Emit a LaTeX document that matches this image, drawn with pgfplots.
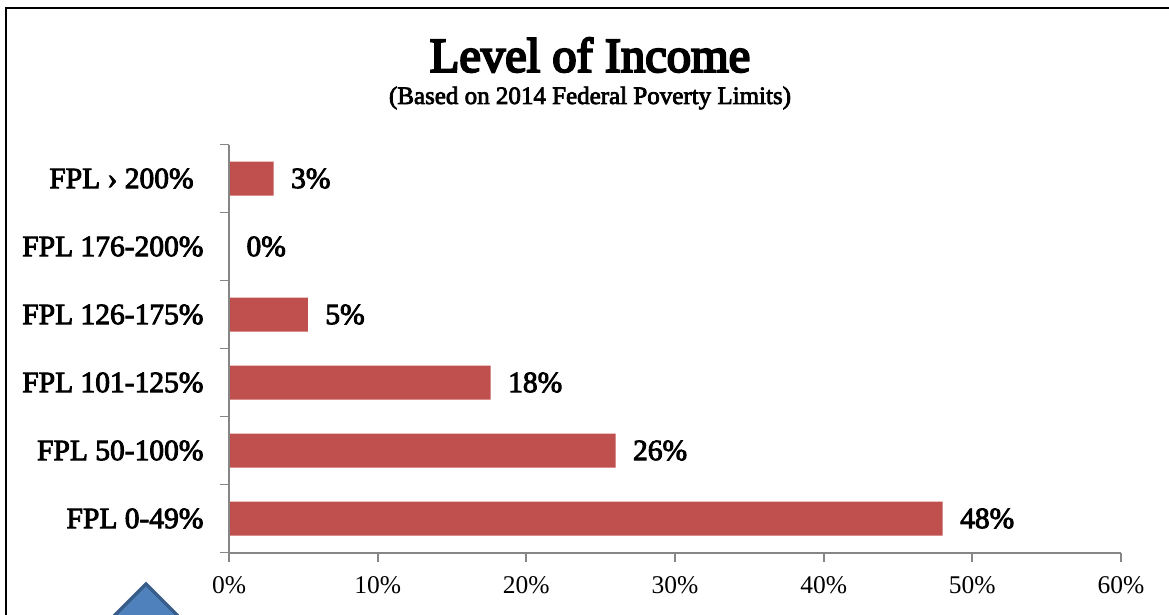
\documentclass[border=0pt]{standalone}
\usepackage{pgfplots}
\usepackage{fontspec}
\pgfplotsset{compat=1.18}
\setmainfont{Liberation Serif}
\newfontfamily\semibold[FakeBold=3]{Liberation Serif}
\newfontfamily\titleface[FakeBold=4.5]{Liberation Serif}
\definecolor{barred}{HTML}{C0504D}
\definecolor{axisgrey}{HTML}{868686}
\definecolor{arrowfill}{HTML}{4F81BD}
\definecolor{arrowedge}{HTML}{385D8A}
\pgfplotstableread{
pos share
0.5 48.0
1.5 26.0
2.5 17.6
3.5 5.3
4.5 0.0
5.5 3.0
}\incometable
\begin{document}
\begin{tikzpicture}[x=1pt,y=1pt]
\path[use as bounding box] (0,0) rectangle (1169,614);
\begin{scope}
\clip (0,0) rectangle (1169,614);
% outer frame of the slide
\draw[black,line width=2.4pt] (6,-10) -- (6,606) -- (1180,606);
% arrow head rising from the lower edge
\draw[arrowedge,fill=arrowfill,line width=3.5pt,line join=miter] (106,-10) -- (146,30) -- (186,-10);
\end{scope}
\begin{axis}[
  at={(229pt,61.5pt)},anchor=south west,
  scale only axis,width=892pt,height=408pt,
  xmin=0,xmax=60,ymin=0,ymax=6,
  xbar,bar width=34pt,
  axis lines=left,axis line style={axisgrey,line width=2pt,-},
  axis on top,
  xtick={0,10,...,60},
  xticklabel={\pgfmathprintnumber{\tick}\%},
  xticklabel style={font=\fontsize{25.5}{25.5}\selectfont,yshift=-11.5pt},
  x tick style={axisgrey,line width=1.8pt},
  ytick={0,...,6},yticklabels={},
  y tick style={axisgrey,line width=1.8pt},
  major tick length=9pt,
  tick align=outside,
  extra y ticks={0.5,1.5,2.5,3.5,4.5,5.5},
  extra y tick labels={FPL 0-49\%,FPL 50-100\%,FPL 101-125\%,FPL 126-175\%,FPL 176-200\%,FPL › 200\%\,\,},
  extra y tick style={major tick length=0pt,
    yticklabel style={font=\semibold\fontsize{29.5}{29.5}\selectfont,anchor=east,xshift=-22pt}},
  /pgf/number format/assume math mode=true,
  nodes near coords={\pgfmathprintnumber[fixed,precision=0]{\pgfplotspointmeta}\%},
  point meta=x,
  every node near coord/.append style={font=\semibold\fontsize{29.5}{29.5}\selectfont,anchor=west,xshift=14pt,text=black},
  clip=false,
]
\addplot[fill=barred,draw=none] table[x=share,y=pos]{\incometable};
\end{axis}
\node[font=\titleface\fontsize{48.5}{48.5}\selectfont] at (590,559) {Level of Income};
\node[font=\semibold\fontsize{25}{25}\selectfont] at (590,516) {(Based on 2014 Federal Poverty Limits)};
\end{tikzpicture}
\end{document}
